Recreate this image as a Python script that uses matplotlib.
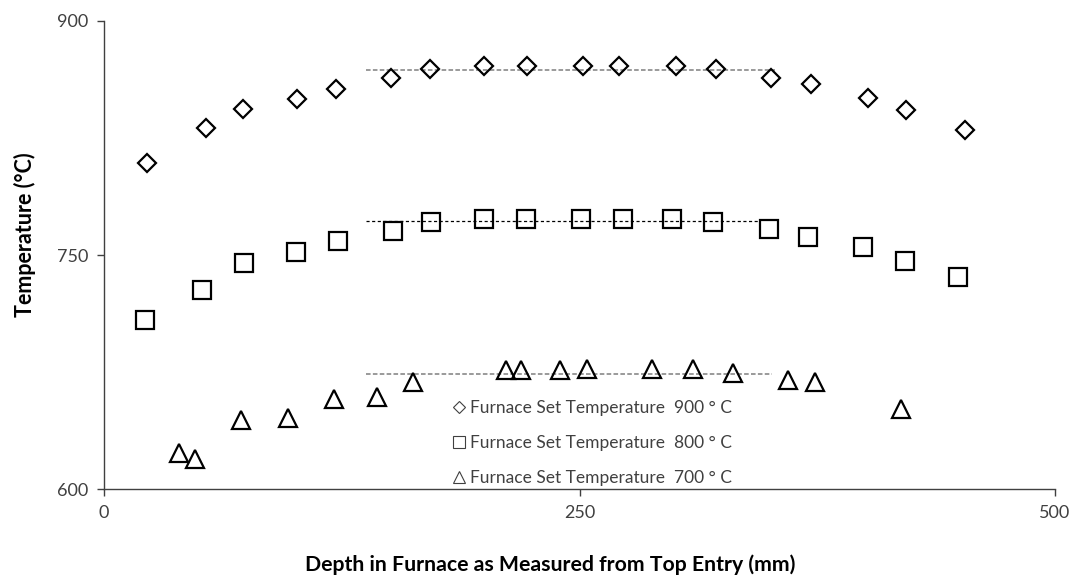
import matplotlib
matplotlib.use('Agg')
import matplotlib.pyplot as plt
from matplotlib.lines import Line2D

plt.rcParams['font.family'] = ['Lato', 'DejaVu Sans']

# 900 C furnace set point
depth_900 = [22.4, 53.5, 73.2, 101.3, 121.8, 150.7, 171.6, 199.6, 222.6, 252.0,
             270.6, 300.7, 321.6, 350.5, 371.5, 401.5, 421.5, 452.8]
temp_900 = [809, 831.5, 843.3, 849.9, 856.3, 863.5, 868.9, 870.8, 870.8, 870.8,
            870.8, 870.8, 868.9, 863.5, 859.7, 850.5, 842.8, 830.2]

# 800 C furnace set point
depth_800 = [21.6, 51.7, 73.6, 101.0, 123.0, 152.1, 171.8, 199.8, 221.7, 250.9,
             272.9, 298.6, 320.2, 349.8, 370.1, 399.2, 421.3, 449.2]
temp_800 = [708.6, 727.8, 744.9, 751.9, 759.2, 765.2, 771.1, 772.9, 772.9, 772.9,
            772.9, 772.9, 770.9, 766.8, 761.7, 755.1, 746.2, 736.1]

# 700 C furnace set point
depth_700 = [39.6, 47.7, 71.9, 96.6, 120.8, 143.7, 162.6, 211.4, 219.1, 239.7,
             254.1, 287.9, 309.8, 330.9, 359.8, 373.8, 419.0]
temp_700 = [623.0, 619.2, 644.2, 645.5, 657.7, 659.1, 668.8, 676.1, 676.1, 676.1,
            676.9, 676.9, 676.9, 674.3, 670.1, 668.4, 651.7]

# flat zone levels and their extent
plateau_start = 138
plateau_end = [353, 345, 351]
plateau_900 = 868.7
plateau_800 = 771.8
plateau_700 = 673.6

labels = ['Furnace Set Temperature  900 \u00b0 C',
          'Furnace Set Temperature  800 \u00b0 C',
          'Furnace Set Temperature  700 \u00b0 C']

fig = plt.figure(figsize=(10.8, 5.77), dpi=100)
ax = fig.add_axes([0.0963, 0.152, 0.8806, 0.8119])

ax.plot([plateau_start, plateau_end[0]], [plateau_900] * 2, color='#7f7f7f', lw=1.1, dashes=(3, 1.5))
ax.plot([plateau_start, plateau_end[1]], [plateau_800] * 2, color='black', lw=0.9, dashes=(2.5, 2))
ax.plot([plateau_start, plateau_end[2]], [plateau_700] * 2, color='#7f7f7f', lw=1.1, dashes=(3, 1.5))

mk = dict(linestyle='none', markerfacecolor='none', markeredgecolor='black',
          markeredgewidth=1.6)
ax.plot(depth_900, temp_900, marker='D', markersize=9.5, **mk)
ax.plot(depth_800, temp_800, marker='s', markersize=12.5, **mk)
ax.plot(depth_700, temp_700, marker='^', markersize=13.5, **mk)

ax.set_xlim(0, 500)
ax.set_ylim(600, 900)
ax.set_xticks([0, 250, 500])
ax.set_yticks([600, 750, 900])
for side in ['top', 'right']:
    ax.spines[side].set_visible(False)
for side in ['left', 'bottom']:
    ax.spines[side].set_color('#404040')
    ax.spines[side].set_linewidth(1.0)
ax.tick_params(axis='both', direction='out', length=5, width=1.0, color='#404040',
               labelsize=13, labelcolor='#404040', pad=6)

# legend uses small thin glyph-like markers
leg_kw = dict(linestyle='none', markerfacecolor='none', markeredgecolor='#404040',
              markeredgewidth=0.8)
handles = [Line2D([], [], marker='D', markersize=6.5, **leg_kw),
           Line2D([], [], marker='s', markersize=8.5, **leg_kw),
           Line2D([], [], marker='^', markersize=8.5, **leg_kw)]
leg = ax.legend(handles, labels, loc='upper left', bbox_to_anchor=(0.368, 0.19),
                frameon=False, fontsize=12.5, labelcolor='#404040',
                handlelength=0.6, handletextpad=0.3, labelspacing=1.1,
                borderpad=0, borderaxespad=0)

fig.text(0.509, 1 - 565 / 577, 'Depth in Furnace as Measured from Top Entry (mm)',
         ha='center', va='center', fontsize=15.3, fontweight='bold', color='black')
fig.text(25 / 1080, 1 - 235 / 577, 'Temperature (\u00b0C)', rotation=90,
         ha='center', va='center', fontsize=15.5, fontweight='bold', color='black')

fig.savefig('out.png', dpi=100)
